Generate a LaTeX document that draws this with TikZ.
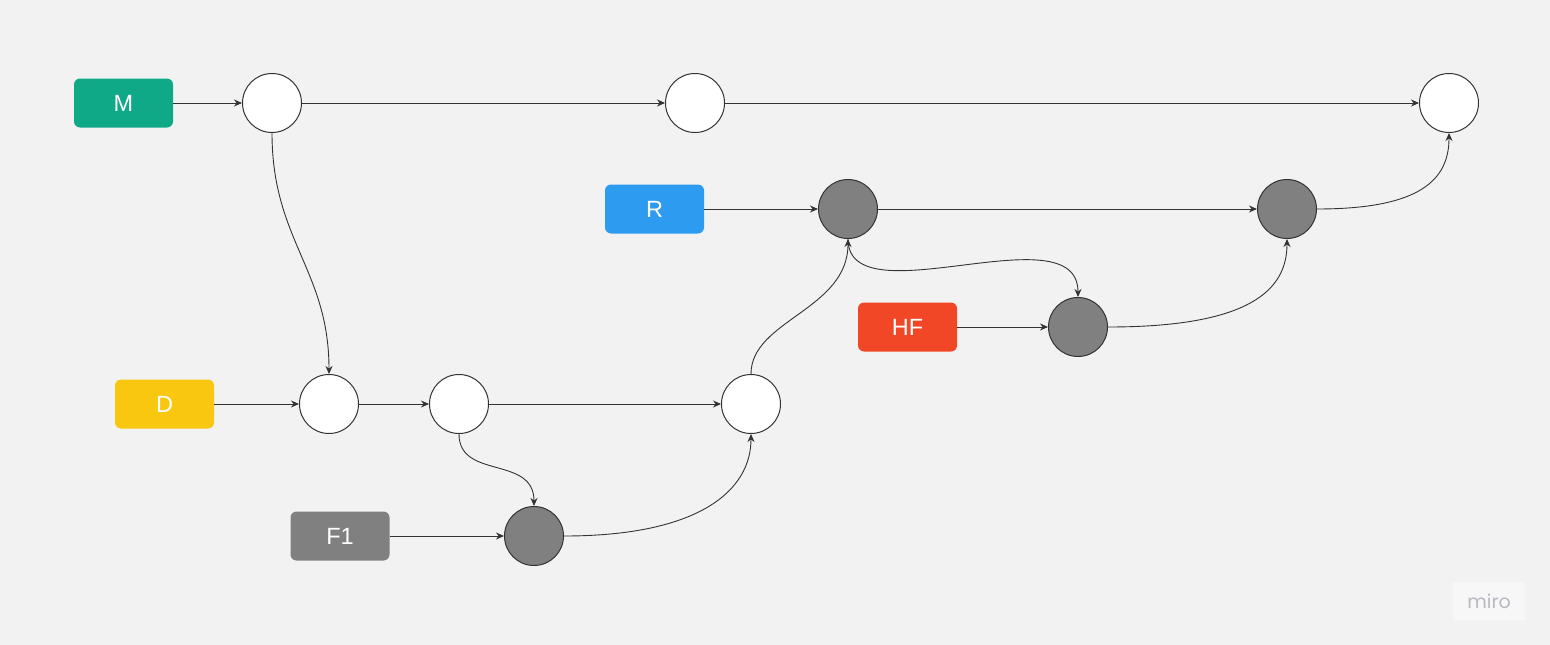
\documentclass[tikz,border=0pt]{standalone}
\usepackage{fontspec}
\setmainfont{Liberation Sans}
\newfontfamily\mirofont{Poppins}
\usetikzlibrary{arrows.meta}
\definecolor{bg}{HTML}{F2F2F2}
\definecolor{cM}{HTML}{0FA987}
\definecolor{cR}{HTML}{2D9BF0}
\definecolor{cHF}{HTML}{F24726}
\definecolor{cD}{HTML}{FAC710}
\definecolor{cF}{HTML}{808080}
\definecolor{ln}{HTML}{333333}
\tikzset{
  branch/.style={rounded corners=6pt, minimum width=99pt, minimum height=49pt, inner sep=0pt,
    text=white, font=\fontsize{23.5}{27}\selectfont},
  commit/.style={circle, draw=ln, line width=1pt, minimum size=59pt, inner sep=0pt, fill=white},
  gcommit/.style={commit, fill=cF},
  conn/.style={draw=ln, line width=0.9pt, -{Stealth[length=8pt,width=7pt]}}
}
\begin{document}
\begin{tikzpicture}[x=1pt,y=-1pt]
\fill[bg] (0,0) rectangle (1550,645);
\useasboundingbox (0,0) rectangle (1550,645);
% branches
\node[branch, fill=cM] (M) at (123.5,103) {M};
\node[branch, fill=cR] (R) at (654.5,209) {R};
\node[branch, fill=cHF] (HF) at (907.5,327) {HF};
\node[branch, fill=cD] (D) at (164.5,404) {D};
\node[branch, fill=cF] (F) at (340,536) {F1};
% commits
\node[commit] (M1) at (272,103) {};
\node[commit] (M2) at (695,103) {};
\node[commit] (M3) at (1449,103) {};
\node[gcommit] (R1) at (848,209) {};
\node[gcommit] (R2) at (1287,209) {};
\node[gcommit] (H1) at (1078,327) {};
\node[commit] (D1) at (329,404) {};
\node[commit] (D2) at (459,404) {};
\node[commit] (D3) at (751,404) {};
\node[gcommit] (F1) at (534,536) {};
% straight connectors
\draw[conn] (M) -- (M1);
\draw[conn] (M1) -- (M2);
\draw[conn] (M2) -- (M3);
\draw[conn] (R) -- (R1);
\draw[conn] (R1) -- (R2);
\draw[conn] (HF) -- (H1);
\draw[conn] (D) -- (D1);
\draw[conn] (D1) -- (D2);
\draw[conn] (D2) -- (D3);
\draw[conn] (F) -- (F1);
% curved connectors
\draw[conn] (M1.south) .. controls (272,240) and (329,270) .. (D1.north);
\draw[conn] (R2.east) .. controls (1420,209) and (1449,180) .. (M3.south);
\draw[conn] (R1.south) .. controls (848,320) and (1078,210) .. (H1.north);
\draw[conn] (H1.east) .. controls (1250,327) and (1287,290) .. (R2.south);
\draw[conn] (D3.north) .. controls (751,320) and (848,310) .. (R1.south);
\draw[conn] (D2.south) .. controls (459,480) and (534,455) .. (F1.north);
\draw[conn] (F1.east) .. controls (700,536) and (751,490) .. (D3.south);
% watermark
\node[fill=white!40!bg, minimum width=72pt, minimum height=38pt, inner sep=0pt] (wm) at (1489,601) {};
\node[text={rgb,255:red,185;green,185;blue,194}, font=\mirofont\fontsize{19}{22}\selectfont, inner sep=0pt] (mt) at (1489,601) {miro};
\end{tikzpicture}
\end{document}
